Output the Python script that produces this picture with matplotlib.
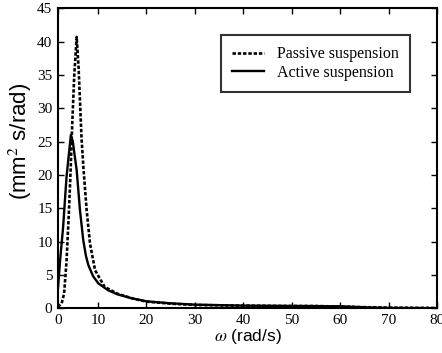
import matplotlib

matplotlib.use("Agg")
import matplotlib.pyplot as plt

# PSD values (mm^2 s/rad vs rad/s).
# The reference axis starts slightly right of its "0" label, so the
# left limit is w_left and its tick is labelled 0.
w_left = 1.74

w_passive = [1.74, 2.5, 3.0, 3.5, 4.0, 4.36, 4.7, 5.1, 5.6, 6.0, 6.6, 7.0,
             7.66, 8.35, 9.4, 11.4, 14, 17, 20, 25, 30, 40, 50, 55, 60, 70, 80]
psd_passive = [0.2, 0.75, 2.2, 7, 14.5, 21, 28, 35, 40.7, 36, 25.5, 21,
               14.7, 9.7, 5.7, 3.2, 2.2, 1.5, 1.0, 0.7, 0.5, 0.4, 0.35, 0.35,
               0.25, 0.1, 0.05]

w_active = [1.74, 2.15, 2.8, 3.5, 3.9, 4.4, 4.8, 5.6, 6.28, 6.96, 7.5, 8.0,
            9.0, 10.06, 12.1, 14, 17, 20, 25, 30, 40, 50, 60, 65, 70, 80]
psd_active = [3, 7, 12.2, 19.7, 22.5, 26, 25, 20.7, 14.7, 10.2, 7.9, 6.5,
              4.8, 3.75, 2.7, 2.1, 1.5, 1.05, 0.75, 0.55, 0.4, 0.35, 0.3,
              0.15, 0.05, 0.02]

xticks = [w_left, 10, 20, 30, 40, 50, 60, 70, 80]
xticklabels = ["0", "10", "20", "30", "40", "50", "60", "70", "80"]
yticks = list(range(0, 46, 5))

plt.rcParams["font.family"] = ["Liberation Serif", "DejaVu Serif"]
plt.rcParams["mathtext.fontset"] = "stix"

fig = plt.figure(figsize=(4.42, 3.53), dpi=100)
ax = fig.add_axes([0.1312, 0.1266, 0.8575, 0.8499])

ax.plot(w_passive, psd_passive, color="black", lw=1.9, ls=(0, (1.3, 0.7)),
        label="Passive suspension")
ax.plot(w_active, psd_active, color="black", lw=1.7, ls="-",
        label="Active suspension")

ax.set_xlim(w_left, 80)
ax.set_ylim(0, 45)
ax.set_xticks(xticks)
ax.set_xticklabels(xticklabels)
ax.set_yticks(yticks)
ax.tick_params(direction="in", top=True, right=True, length=4, width=1,
               labelsize=11, pad=4)
for s in ax.spines.values():
    s.set_linewidth(1.5)

ax.set_xlabel(r"$\omega$ (rad/s)", family="Liberation Sans", fontsize=12.5,
              labelpad=0)
ax.set_ylabel(r"(mm$^2$ s/rad)", family="Liberation Sans", fontsize=16)
ax.yaxis.set_label_coords(-0.062, 0.555)

leg = ax.legend(loc="upper right", bbox_to_anchor=(0.929, 0.911),
                fontsize=11.5, frameon=True, fancybox=False,
                edgecolor="black", handlelength=2.0, handletextpad=0.8,
                borderpad=0.7, borderaxespad=0, labelspacing=0.15)
leg.get_frame().set_linewidth(1.5)

fig.savefig("out.png", dpi=100)
